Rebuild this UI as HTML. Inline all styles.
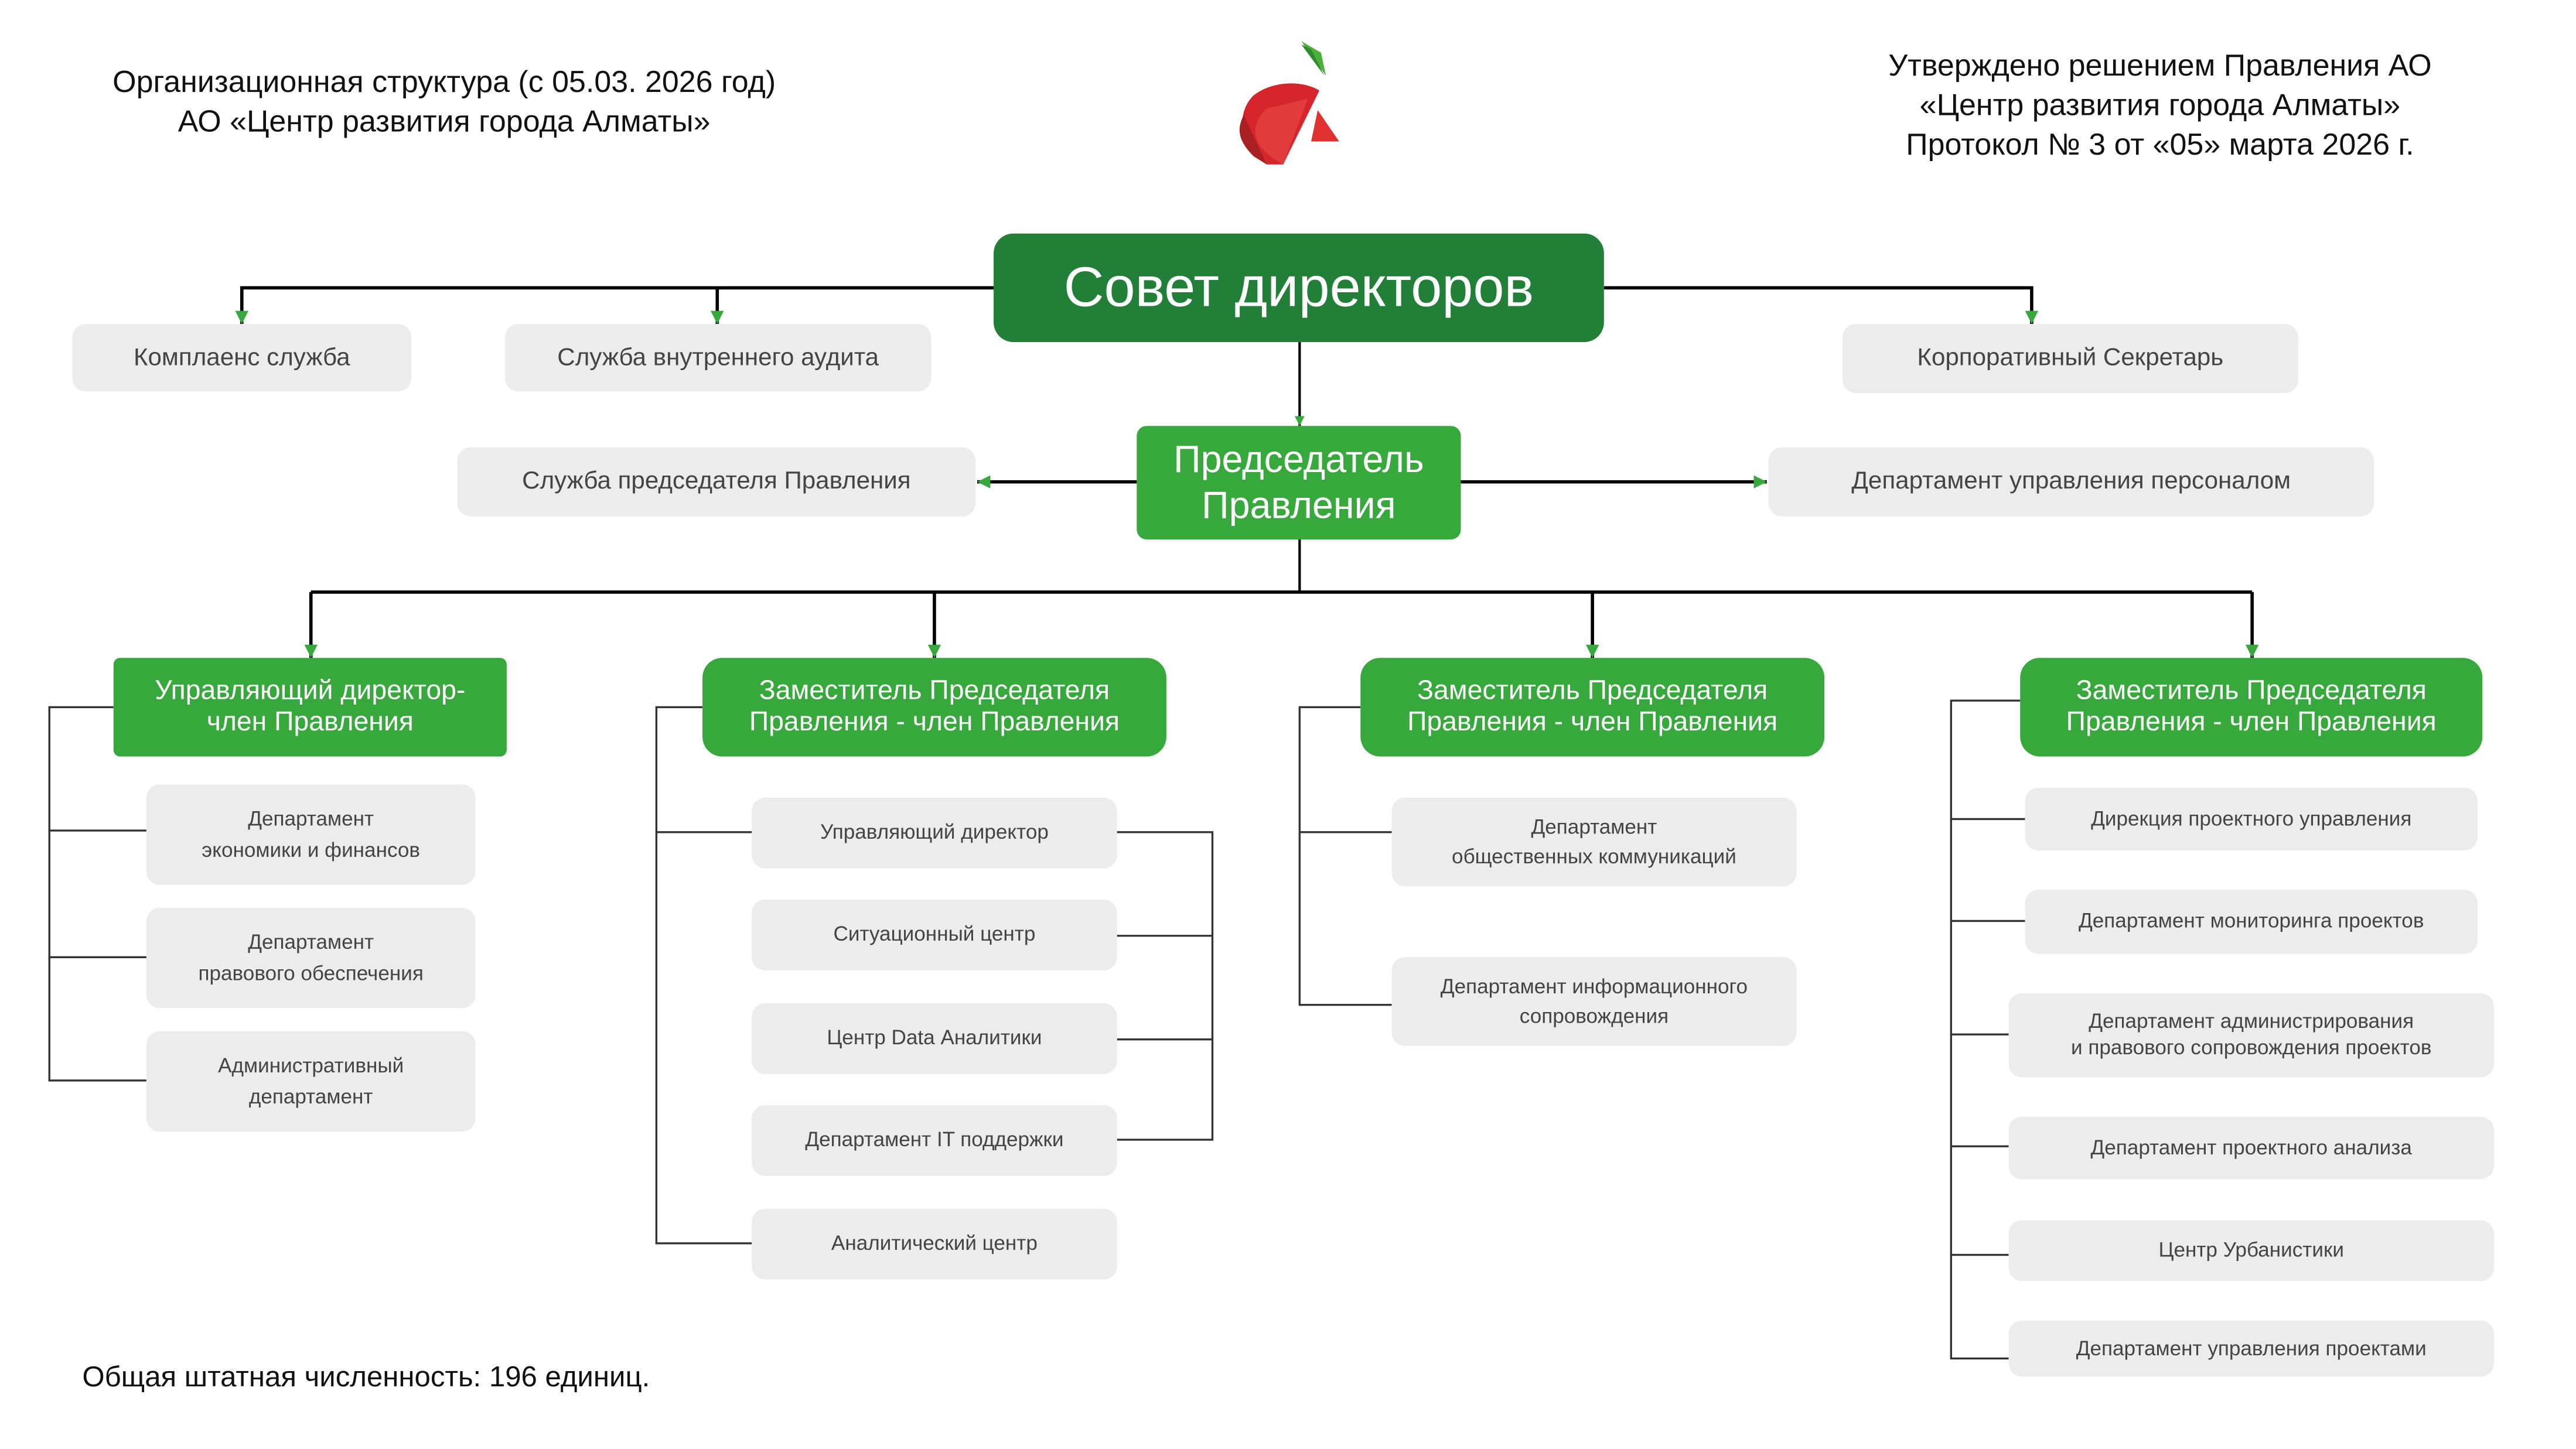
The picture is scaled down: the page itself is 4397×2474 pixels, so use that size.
<!DOCTYPE html>
<html><head><meta charset="utf-8">
<style>
html,body{margin:0;padding:0;background:#fff;}
body{width:4397px;height:2474px;overflow:hidden;position:relative;}
#c{position:absolute;left:0;top:0;width:1552px;height:873px;transform:scale(2.808);transform-origin:0 0;font-family:"Liberation Sans","DejaVu Sans",sans-serif;}
.b{position:absolute;display:flex;align-items:center;justify-content:center;text-align:center;box-sizing:border-box;line-height:1.3;}
.g{background:#ececec;color:#444;border-radius:8px;font-size:15px;}
.s{font-size:12.5px;line-height:1.45;}
.gr{background:#37a83b;color:#fff;border-radius:8px;font-size:16.5px;line-height:1.15;}
.t{position:absolute;text-align:center;color:#111;font-size:18.5px;line-height:1.3;}
svg{position:absolute;left:0;top:0;}
</style></head><body><div id="c">
<svg width="1552" height="873" viewBox="0 0 1552 873">
<defs>
<marker id="a" viewBox="0 0 10 10" refX="10" refY="5" markerWidth="4" markerHeight="4" orient="auto"><path d="M0,0 L10,5 L0,10 z" fill="#37a83b"/></marker>
</defs>
<g stroke="#000" stroke-width="2" fill="none">
<polyline points="604,175 147,175 147,197" marker-end="url(#a)"/>
<line x1="436" y1="175" x2="436" y2="197" marker-end="url(#a)"/>
<polyline points="975,175 1235,175 1235,197" marker-end="url(#a)"/>
<line x1="790" y1="208" x2="790" y2="259" marker-end="url(#a)" stroke-width="1.5"/>
<line x1="691" y1="293" x2="594" y2="293" marker-end="url(#a)"/>
<line x1="888" y1="293" x2="1074" y2="293" marker-end="url(#a)"/>
<line x1="790" y1="328" x2="790" y2="360" stroke-width="1.5"/>
<line x1="189" y1="360" x2="1369" y2="360"/>
<line x1="189" y1="360" x2="189" y2="400" marker-end="url(#a)"/>
<line x1="568" y1="360" x2="568" y2="400" marker-end="url(#a)"/>
<line x1="968" y1="360" x2="968" y2="400" marker-end="url(#a)"/>
<line x1="1369" y1="360" x2="1369" y2="400" marker-end="url(#a)"/>
</g>
<g stroke="#333" stroke-width="1.2" fill="none">
<polyline points="69,430 30,430 30,657 89,657"/>
<line x1="30" y1="505" x2="89" y2="505"/><line x1="30" y1="582" x2="89" y2="582"/>
<polyline points="427,430 399,430 399,756 457,756"/>
<line x1="399" y1="506" x2="457" y2="506"/>
<polyline points="679,506 737,506 737,693 679,693"/>
<line x1="679" y1="569" x2="737" y2="569"/><line x1="679" y1="632" x2="737" y2="632"/>
<polyline points="827,430 790,430 790,611 846,611"/>
<line x1="790" y1="506" x2="846" y2="506"/>
<polyline points="1228,426 1186,426 1186,826 1221,826"/>
<line x1="1186" y1="498" x2="1231" y2="498"/><line x1="1186" y1="560" x2="1231" y2="560"/>
<line x1="1186" y1="629" x2="1221" y2="629"/><line x1="1186" y1="697" x2="1221" y2="697"/>
<line x1="1186" y1="763" x2="1221" y2="763"/>
</g>
<path d="M791,25 L803,32 L806,46 Z" fill="#4caf3a"/>
<path d="M797,30 L805,46 L791,27Z" fill="#2e8b2e"/>
<path d="M802,55 C790,48 772,50 762,58 C752,68 752,85 770,100 L780,100 Z" fill="#d6262b"/>
<path d="M770,66 L795,60 L780,100 C765,92 756,80 770,66Z" fill="#e23b3b"/>
<path d="M756,70 L770,100 L762,95 C752,85 752,78 756,70Z" fill="#a81f24"/>
<path d="M801,67 L814,86 L797,86 Z" fill="#e03030"/>
</svg>
<div class="t" style="left:30px;top:38px;width:480px;">Организационная структура (с 05.03. 2026 год)<br>АО «Центр развития города Алматы»</div>
<div class="t" style="left:1090px;top:28px;width:446px;line-height:1.3;">Утверждено решением Правления АО<br>«Центр развития города Алматы»<br>Протокол № 3 от «05» марта 2026 г.</div>
<div class="b" style="left:604px;top:142px;width:371px;height:66px;background:#217f37;color:#fff;border-radius:12px;font-size:34px;">Совет директоров</div>
<div class="b g" style="left:44px;top:197px;width:206px;height:41px;">Комплаенс служба</div>
<div class="b g" style="left:307px;top:197px;width:259px;height:41px;">Служба внутреннего аудита</div>
<div class="b g" style="left:1120px;top:197px;width:277px;height:42px;">Корпоративный Секретарь</div>
<div class="b" style="left:691px;top:259px;width:197px;height:69px;background:#37a83b;color:#fff;border-radius:6px;font-size:23px;line-height:1.2;">Председатель<br>Правления</div>
<div class="b g" style="left:278px;top:272px;width:315px;height:42px;">Служба председателя Правления</div>
<div class="b g" style="left:1075px;top:272px;width:368px;height:42px;">Департамент управления персоналом</div>
<div class="b gr" style="left:69px;top:400px;width:239px;height:60px;border-radius:4px;">Управляющий директор-<br>член Правления</div>
<div class="b gr" style="left:427px;top:400px;width:282px;height:60px;border-radius:12px;">Заместитель Председателя<br>Правления - член Правления</div>
<div class="b gr" style="left:827px;top:400px;width:282px;height:60px;border-radius:12px;">Заместитель Председателя<br>Правления - член Правления</div>
<div class="b gr" style="left:1228px;top:400px;width:281px;height:60px;border-radius:12px;">Заместитель Председателя<br>Правления - член Правления</div>
<div class="b g s" style="left:89px;top:477px;width:200px;height:61px;">Департамент<br>экономики и финансов</div>
<div class="b g s" style="left:89px;top:552px;width:200px;height:61px;">Департамент<br>правового обеспечения</div>
<div class="b g s" style="left:89px;top:627px;width:200px;height:61px;">Административный<br>департамент</div>
<div class="b g s" style="left:457px;top:485px;width:222px;height:43px;">Управляющий директор</div>
<div class="b g s" style="left:457px;top:547px;width:222px;height:43px;">Ситуационный центр</div>
<div class="b g s" style="left:457px;top:610px;width:222px;height:43px;">Центр Data Аналитики</div>
<div class="b g s" style="left:457px;top:672px;width:222px;height:43px;">Департамент IT поддержки</div>
<div class="b g s" style="left:457px;top:735px;width:222px;height:43px;">Аналитический центр</div>
<div class="b g s" style="left:846px;top:485px;width:246px;height:54px;">Департамент<br>общественных коммуникаций</div>
<div class="b g s" style="left:846px;top:582px;width:246px;height:54px;">Департамент информационного<br>сопровождения</div>
<div class="b g s" style="left:1231px;top:479px;width:275px;height:38px;">Дирекция проектного управления</div>
<div class="b g s" style="left:1231px;top:541px;width:275px;height:39px;">Департамент мониторинга проектов</div>
<div class="b g s" style="left:1221px;top:604px;width:295px;height:51px;line-height:1.25;">Департамент администрирования<br>и правового сопровождения проектов</div>
<div class="b g s" style="left:1221px;top:679px;width:295px;height:38px;">Департамент проектного анализа</div>
<div class="b g s" style="left:1221px;top:742px;width:295px;height:37px;">Центр Урбанистики</div>
<div class="b g s" style="left:1221px;top:803px;width:295px;height:34px;">Департамент управления проектами</div>
<div class="t" style="left:50px;top:826px;text-align:left;font-size:17.5px;">Общая штатная численность: 196 единиц.</div>
</div></body></html>
